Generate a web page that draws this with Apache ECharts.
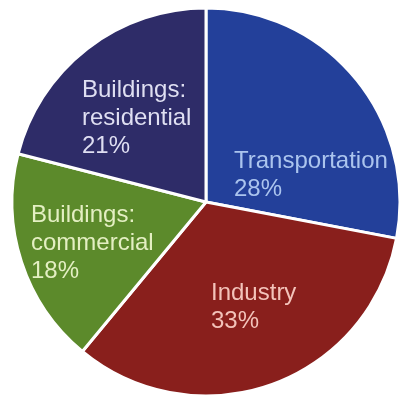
<!DOCTYPE html>
<html>
<head>
<meta charset="utf-8">
<script src="https://cdn.jsdelivr.net/npm/echarts@6/dist/echarts.min.js"></script>
<style>
  html, body { margin: 0; padding: 0; background: #ffffff; }
  #chart { width: 399px; height: 395px; }
</style>
</head>
<body>
<div id="chart"></div>
<script>
// Emissions share by sector, clockwise from 12 o'clock
const sectors = ['Transportation', 'Industry', 'Buildings:\ncommercial', 'Buildings:\nresidential'];
const shares = [28, 33, 18, 21];

const sliceColors = ['#23409a', '#891f1c', '#5c8a2b', '#2e2c68'];
const labelColors = ['#abc4ee', '#f3c3ba', '#e4efc3', '#dfdff2'];
// top-left corner of each label block
const labelSpots = [[234, 147], [211, 279], [31, 201], [82, 76]];

const chart = echarts.init(document.getElementById('chart'), null, { renderer: 'canvas' });

chart.setOption({
  backgroundColor: '#ffffff',
  animation: false,
  series: [{
    type: 'pie',
    center: [206, 202],
    radius: 194,
    startAngle: 90,
    clockwise: true,
    avoidLabelOverlap: false,
    itemStyle: { borderColor: '#ffffff', borderWidth: 3 },
    label: {
      show: true,
      position: 'inside',
      fontFamily: '"Liberation Sans", Arial, sans-serif',
      fontSize: 24,
      lineHeight: 28,
      align: 'left',
      formatter: p => p.name + '\n' + p.value + '%'
    },
    labelLine: { show: false },
    labelLayout: p => ({
      x: labelSpots[p.dataIndex][0],
      y: labelSpots[p.dataIndex][1],
      align: 'left',
      verticalAlign: 'top'
    }),
    emphasis: { disabled: true },
    data: sectors.map((name, i) => ({
      name,
      value: shares[i],
      itemStyle: { color: sliceColors[i] },
      label: { color: labelColors[i] }
    }))
  }]
});
</script>
</body>
</html>
